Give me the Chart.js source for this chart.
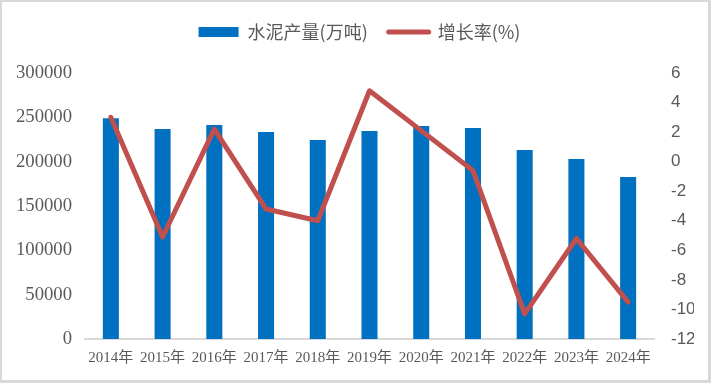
<!DOCTYPE html>
<html><head><meta charset="utf-8">
<script src="https://cdn.jsdelivr.net/npm/chart.js@4/dist/chart.umd.min.js"></script>
<style>
html,body{margin:0;padding:0;background:#fff;}
#wrap{position:relative;width:711px;height:383px;box-sizing:border-box;border:2px solid #d9d9d9;border-right-width:3px;border-bottom-width:3px;}
canvas{display:block;}
</style></head>
<body><div id="wrap"><canvas id="c" width="706" height="378"></canvas></div>
<script>
const categories = ["2014年","2015年","2016年","2017年","2018年","2019年","2020年","2021年","2022年","2023年","2024年"];
const output = [249000, 236800, 241300, 233500, 224400, 234600, 240200, 238000, 213200, 203000, 182700];
const growth = [3.0, -5.1, 2.2, -3.2, -4.0, 4.8, 2.1, -0.6, -10.3, -5.2, -9.5];
const leftTicks = [0, 50000, 100000, 150000, 200000, 250000, 300000];
const rightTicks = [-12, -10, -8, -6, -4, -2, 0, 2, 4, 6];
const seriesNames = ["水泥产量(万吨)", "增长率(%)"];

const BLUE = '#0070C0', RED = '#C0504D', GREY = '#595959';
const serif = '"Liberation Serif","Noto Sans CJK SC",serif';
const sans = '"Liberation Sans","Noto Sans CJK SC",sans-serif';
const cjk = '"Noto Sans CJK SC",sans-serif';

const legendGap = {
  id: 'legendGap',
  beforeInit(chart) {
    const lg = chart.legend;
    if (!lg) return;
    const fit = lg.fit;
    lg.fit = function () { fit.call(this); this.height += 22; };
  },
  afterLayout(chart) {
    const lg = chart.legend;
    if (!lg) return;
    lg.left += 6; lg.right += 6;
  }
};

new Chart(document.getElementById('c'), {
  data: {
    labels: categories,
    datasets: [
      { type: 'bar', label: seriesNames[0], data: output, backgroundColor: BLUE, borderWidth: 0,
        categoryPercentage: 1, barPercentage: 0.31, yAxisID: 'y', order: 2 },
      { type: 'line', label: seriesNames[1], data: growth, borderColor: RED, backgroundColor: RED,
        borderWidth: 5, pointRadius: 0, tension: 0, borderCapStyle: 'round', borderJoinStyle: 'round',
        yAxisID: 'y1', order: 1 }
    ]
  },
  plugins: [legendGap],
  options: {
    responsive: false, animation: false,
    devicePixelRatio: 1,
    layout: { padding: { left: 11, right: 14, top: 0, bottom: 13 } },
    plugins: {
      tooltip: { enabled: false },
      legend: {
        position: 'top',
        labels: {
          usePointStyle: true, pointStyleWidth: 40, boxHeight: 10,
          color: GREY, font: { family: cjk, size: 18 }, padding: 21,
          generateLabels: (chart) => [
            { text: seriesNames[0], fillStyle: BLUE, strokeStyle: BLUE, lineWidth: 0, pointStyle: 'rect', datasetIndex: 0, fontColor: GREY },
            { text: seriesNames[1], fillStyle: RED, strokeStyle: RED, lineWidth: 5, lineCap: 'round', pointStyle: 'line', datasetIndex: 1, fontColor: GREY }
          ]
        }
      }
    },
    scales: {
      x: {
        grid: { display: false, drawTicks: false },
        border: { display: true, color: '#D9D9D9', width: 2 },
        afterFit: (ax) => { ax.height = 28; },
        ticks: { color: GREY, font: { family: serif, size: 15 }, autoSkip: false, maxRotation: 0, minRotation: 0, padding: 10 }
      },
      y: {
        position: 'left', min: 0, max: 300000,
        grid: { display: false, drawTicks: false },
        border: { display: false },
        afterFit: (ax) => { ax.width = 72; },
        afterBuildTicks: (ax) => { ax.ticks = leftTicks.map(v => ({ value: v })); },
        ticks: { color: GREY, font: { family: serif, size: 18.7 }, padding: 13, callback: v => String(v) }
      },
      y1: {
        position: 'right', min: -12, max: 6,
        grid: { display: false, drawTicks: false },
        border: { display: false },
        afterFit: (ax) => { ax.width = 40; },
        afterBuildTicks: (ax) => { ax.ticks = rightTicks.map(v => ({ value: v })); },
        ticks: { color: GREY, font: { family: sans, size: 17 }, padding: 17, callback: v => String(v) }
      }
    }
  }
});
</script>
</body></html>
